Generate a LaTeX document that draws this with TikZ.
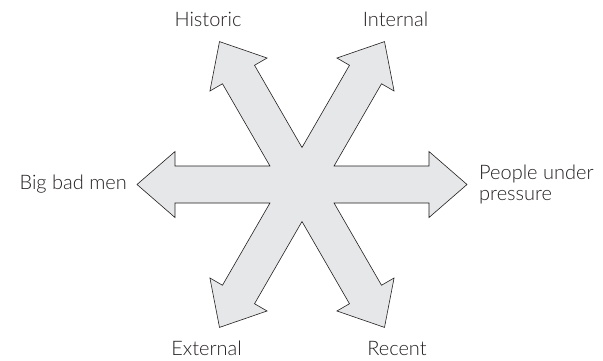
\documentclass[tikz,border=0pt]{standalone}
\usepackage{fontspec}
\setmainfont{Lato Light}
\usepackage{tikz}
\usetikzlibrary{calc,positioning}
\definecolor{ink}{HTML}{231F20}
\definecolor{pale}{HTML}{E6E7E8}

\begin{document}
\begin{tikzpicture}[x=1pt,y=1pt,
  starbody/.style={draw=ink,fill=pale,line width=0.6pt,line join=miter},
  lbl/.style={text=ink,font=\fontsize{20}{21}\selectfont,inner sep=0pt}]
\useasboundingbox (-302,-175.5) rectangle (301,184.5);
\coordinate (hub) at (0,0);
% six arms: shaft 18.5 half width, head 33 half width, head 38 long, reach 165
\draw[starbody] (-30:37)
  \foreach \a in {0,60,...,300} {
    -- ($(\a:127)+(\a-90:18.5)$) -- ($(\a:127)+(\a-90:33)$)
    -- (\a:165) coordinate (tip\a)
    -- ($(\a:127)+(\a+90:33)$) -- ($(\a:127)+(\a+90:18.5)$)
    -- (\a+30:37)
  } -- cycle;
% labels
\node[lbl,anchor=base] (historic) at (-94,158.5) {Historic};
\node[lbl,anchor=base] (internal) at (93.5,158.5) {Internal};
\node[lbl,anchor=base] (external) at (-95.5,-170.5) {External};
\node[lbl,anchor=base] (recent) at (95,-170.5) {Recent};
\node[lbl,left=10pt of tip180] (bigbad) {Big bad men};
\node[lbl,right=12pt of tip0,align=left] (people) {People under\\pressure};
\end{tikzpicture}
\end{document}
